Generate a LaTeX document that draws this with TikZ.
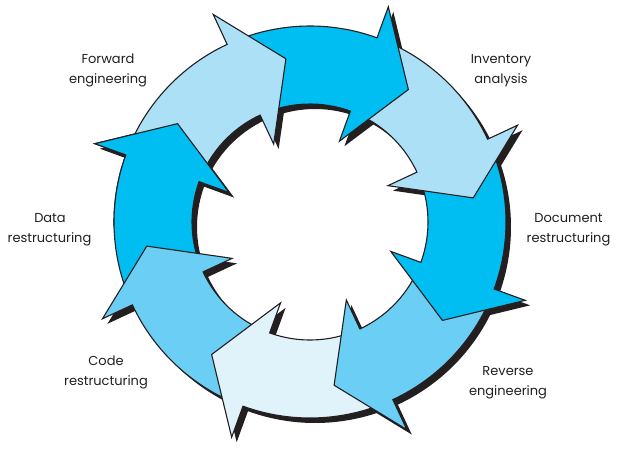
\documentclass[tikz,border=0pt]{standalone}
\usepackage{fontspec}
\setmainfont{Poppins}
\definecolor{cdark}{HTML}{00BDF2}
\definecolor{clight}{HTML}{ACE0F7}
\definecolor{cmed}{HTML}{6ACEF5}
\definecolor{cvlight}{HTML}{E0F3FB}
\definecolor{ink}{HTML}{231F20}
\newcommand{\ringarrow}[1]{(#1+44:196) arc[start angle=#1+44, end angle=#1, radius=196] -- (#1:229) -- (#1-16.6:165) -- (#1:86) -- (#1:118) arc[start angle=#1, end angle=#1+44, radius=118] -- cycle}
\tikzset{
  arr/.style={draw=ink, line width=1.1pt, line join=miter, fill=#1},
  lbl/.style={anchor=base, text=ink, font=\fontsize{13}{20}\selectfont, inner sep=0pt}
}
\begin{document}
\begin{tikzpicture}[x=1pt,y=1pt]
\useasboundingbox[fill=white] (0,0) rectangle (635,-459);
% shadow
\begin{scope}[shift={(315,-227)}]
  \foreach \b in {115,70,25,-20,-65,-110,-155,160} {\fill[ink] \ringarrow{\b};}
\end{scope}
% arrows
\begin{scope}[shift={(310,-222)}]
  \path[arr=cdark] \ringarrow{160};
  \path[arr=cmed] \ringarrow{-155};
  \path[arr=cvlight] \ringarrow{-110};
  \path[arr=cmed] \ringarrow{-65};
  \path[arr=cdark] \ringarrow{-20};
  \path[arr=clight] \ringarrow{25};
  \path[arr=cdark] \ringarrow{70};
  \path[arr=clight] \ringarrow{115};
  \begin{scope}
    \clip (0,0) -- (135:400) -- (158:400) -- (182:400) -- cycle;
    \path[arr=cdark] \ringarrow{160};
  \end{scope}
\end{scope}
% labels
\node[lbl] (fw1) at (108,-63) {Forward};
\node[lbl] (fw2) at (108,-83) {engineering};
\node[lbl] (in1) at (501,-63) {Inventory};
\node[lbl] (in2) at (501,-83) {analysis};
\node[lbl] (do1) at (568.5,-222) {Document};
\node[lbl] (do2) at (568.5,-242) {restructuring};
\node[lbl] (da1) at (50,-222) {Data};
\node[lbl] (da2) at (49.5,-242) {restructuring};
\node[lbl] (co1) at (106,-365) {Code};
\node[lbl] (co2) at (106,-385) {restructuring};
\node[lbl] (re1) at (508,-375) {Reverse};
\node[lbl] (re2) at (508,-395) {engineering};
\end{tikzpicture}
\end{document}
